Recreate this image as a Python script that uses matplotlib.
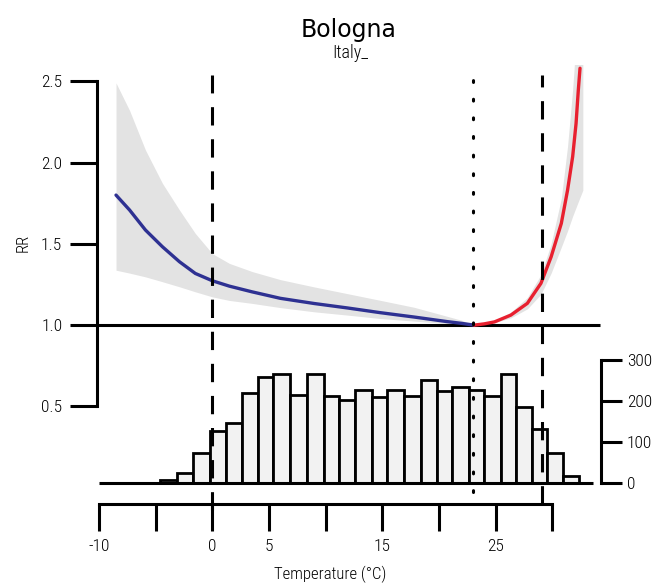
import numpy as np
import matplotlib
matplotlib.use("Agg")
import matplotlib.pyplot as plt
from matplotlib import font_manager

# pick a narrow face if the box has one
names = {f.name for f in font_manager.fontManager.ttflist}
narrow = "DejaVu Sans"
for cand in ["Liberation Sans Narrow", "Roboto Condensed", "Open Sans Condensed"]:
    if cand in names:
        narrow = cand
        break
small = dict(family=narrow, stretch="condensed", weight="light")

# cold side (blue) curve and band
cold_t = [-8.5, -7.3, -5.9, -4.4, -2.9, -1.5, 0.0, 1.5, 3.5, 6.0, 9.0, 11.9, 14.8, 17.8, 20.7, 22.0, 23.1]
cold_rr = [1.80, 1.708, 1.585, 1.482, 1.39, 1.318, 1.273, 1.24, 1.205, 1.165, 1.133, 1.106, 1.077,
           1.05, 1.022, 1.011, 1.0]
cold_hi = [2.49, 2.32, 2.077, 1.872, 1.708, 1.564, 1.44, 1.38, 1.33, 1.28, 1.235, 1.194, 1.153,
           1.11, 1.055, 1.03, 1.0]
cold_lo = [1.338, 1.32, 1.297, 1.267, 1.236, 1.205, 1.174, 1.152, 1.134, 1.108, 1.082, 1.062, 1.041,
           1.025, 1.01, 1.005, 1.0]

# hot side (red) curve and band
hot_t = [23.1, 24.0, 24.9, 26.35, 27.8, 29.0, 29.9, 30.8, 31.35, 31.8, 32.1, 32.3, 32.45]
hot_rr = [1.0, 1.008, 1.02, 1.062, 1.134, 1.257, 1.42, 1.626, 1.83, 2.036, 2.24, 2.446, 2.58]
band_t = [23.1, 24.9, 26.35, 27.8, 29.0, 29.9, 30.8, 31.35, 31.8, 32.3, 32.7]
hot_hi = [1.0, 1.025, 1.08, 1.17, 1.31, 1.5, 1.78, 2.1, 2.45, 2.95, 3.6]
hot_lo = [1.0, 1.015, 1.045, 1.1, 1.19, 1.32, 1.48, 1.58, 1.67, 1.76, 1.83]

# temperature histogram (days per bin)
bin_edges = [-4.65, -3.16, -1.67, -0.19, 1.19, 2.60, 4.01, 5.39, 6.88, 8.36, 9.85, 11.15, 12.57,
             14.05, 15.43, 16.91, 18.40, 19.81, 21.19, 22.68, 23.98, 25.46, 26.77, 28.25, 29.55,
             30.96, 32.34]
counts = [8, 25, 74, 128, 146, 219, 259, 267, 215, 267, 211, 202, 227, 210, 227, 211, 251, 225,
          234, 227, 211, 267, 186, 131, 74, 17]

mmt = 23.0          # minimum mortality temperature
pct = [0.0, 29.1]   # 1st / 99th percentiles

x_ticks = [-10, -5, 0, 5, 10, 15, 20, 25, 30]
x_labels = ["-10", "", "0", "5", "", "15", "", "25", ""]
y_ticks = [0.5, 1.0, 1.5, 2.0, 2.5]
h_ticks = [0, 100, 200, 300]

fig = plt.figure(figsize=(6.61, 5.83), dpi=100)
ax = fig.add_axes([0.1467, 0.1355, 0.7625, 0.753])
ax.set_xlim(-10.18, 34.3)
ax.set_ylim(-0.10, 2.6)

lw = 2.2
ax.fill_between(cold_t, cold_lo, cold_hi, color="#e3e3e3", lw=0, zorder=1)
ax.fill_between(band_t, hot_lo, hot_hi, color="#e3e3e3", lw=0, zorder=1)
ax.hlines(1.0, -10.18, 34.2, color="black", lw=lw, zorder=2)
ax.plot(cold_t, cold_rr, color="#2e3192", lw=2.4, zorder=3, solid_capstyle="round")
ax.plot(hot_t, hot_rr, color="#e8202f", lw=2.4, zorder=3, solid_capstyle="round")

for s in ["top", "right"]:
    ax.spines[s].set_visible(False)
for s in ["left", "bottom"]:
    ax.spines[s].set_linewidth(lw)
ax.spines["left"].set_bounds(0.5, 2.5)
ax.spines["bottom"].set_bounds(-10, 30)
ax.set_yticks(y_ticks)
ax.set_yticklabels([f"{v:.1f}" for v in y_ticks], **small)
ax.set_xticks(x_ticks)
ax.set_xticklabels(x_labels, **small)
ax.tick_params(length=19.5, width=lw, labelsize=12.5, pad=5.5)

# histogram on a second scale
tw = ax.twinx()
tw.set_ylim(-51.2, 1019.5)
tw.bar(bin_edges[:-1], counts, width=np.diff(bin_edges), align="edge",
       color="#f2f2f2", edgecolor="black", lw=2.0, zorder=2)
tw.hlines(0, -10, 33.6, color="black", lw=lw, zorder=3)
for s in ["top", "left", "bottom"]:
    tw.spines[s].set_visible(False)
tw.spines["right"].set_linewidth(lw)
tw.spines["right"].set_bounds(0, 300)
tw.set_yticks(h_ticks)
tw.set_yticklabels([str(v) for v in h_ticks], **small)
tw.tick_params(length=15, width=lw, labelsize=12.5, pad=3.5)

for p, lo in zip(pct, [-0.014, 0.0]):
    tw.axvline(p, ymin=lo, ymax=0.977, color="black", lw=2.2, ls=(0, (6, 4.5)),
               clip_on=False, zorder=4)
tw.axvline(mmt, ymin=0.027, ymax=0.977, color="black", lw=2.2, ls=(0, (0.6, 5.5)),
           dash_capstyle="round", clip_on=False, zorder=4)

fig.text(0.528, 0.949, "Bologna", ha="center", va="center", fontsize=17)
fig.text(0.53, 0.909, "Italy_", ha="center", va="center", fontsize=13, **small)
fig.text(0.035, 0.584, "RR", rotation=90, ha="center", va="center", fontsize=12, **small)
fig.text(0.5, 0.014, "Temperature (°C)", ha="center", va="center", fontsize=12, **small)

fig.savefig("out.png", dpi=100)
